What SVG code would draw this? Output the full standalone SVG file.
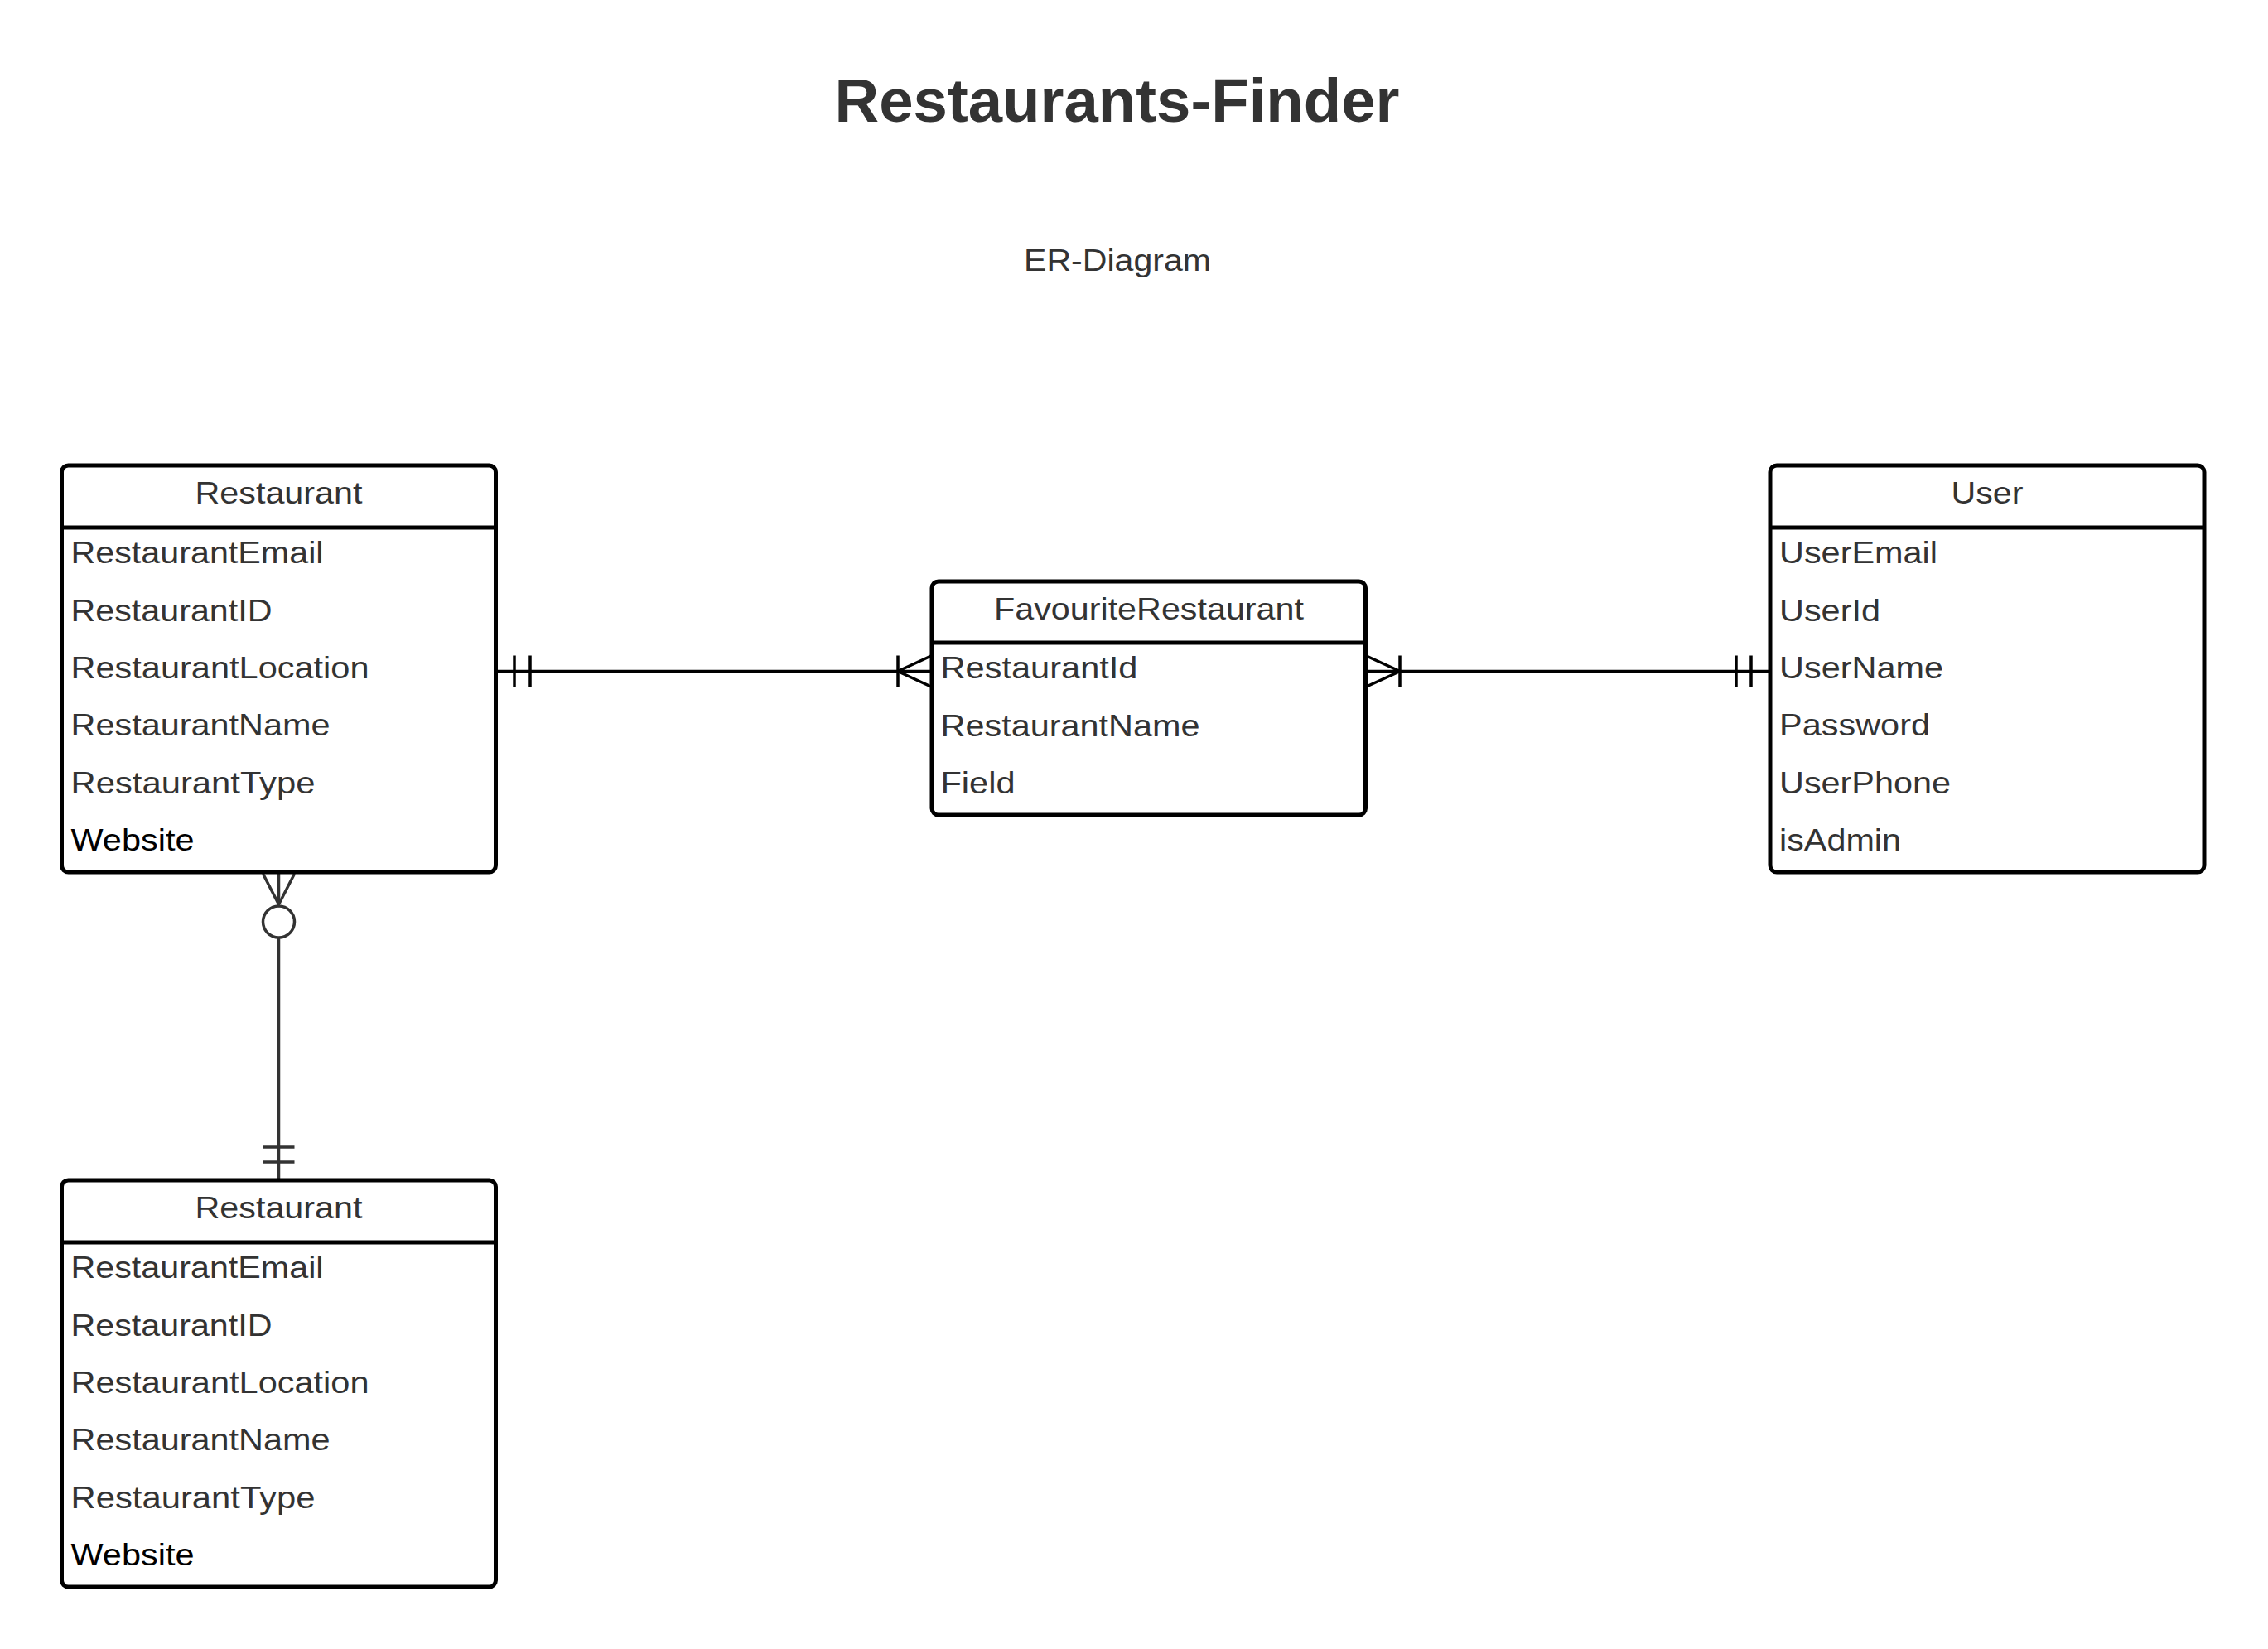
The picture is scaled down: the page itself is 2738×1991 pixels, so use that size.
<svg xmlns="http://www.w3.org/2000/svg" width="2738" height="1991" viewBox="0 0 2738 1991">
<style>
.bg{fill:#ffffff}
.box{fill:#ffffff;stroke:#000000;stroke-width:5}
.div{stroke:#000000;stroke-width:5}
.t{font-family:"Liberation Sans",Arial,sans-serif;font-size:37px;fill:#333333}
.h{text-anchor:middle}
.blk{fill:#000000}
.title{font-family:"Liberation Sans",Arial,sans-serif;font-size:74px;font-weight:bold;fill:#333333;text-anchor:middle}
.c{fill:none;stroke:#000000;stroke-width:3.5}
.cg{fill:none;stroke:#333333;stroke-width:3.5}
</style>
<rect class="bg" x="0" y="0" width="2738" height="1991"/>
<g id="title">
<text class="title" x="1348.5" y="147" textLength="682" lengthAdjust="spacingAndGlyphs">Restaurants-Finder</text>
<text class="t h" x="1349" y="327" textLength="226" lengthAdjust="spacingAndGlyphs">ER-Diagram</text>
</g>
<g id="connectors">
<line class="c" x1="598.5" y1="810.5" x2="1125" y2="810.5"/>
<line class="c" x1="621" y1="791.5" x2="621" y2="829.5"/>
<line class="c" x1="640" y1="791.5" x2="640" y2="829.5"/>
<polyline class="c" points="1125,791.5 1084,810.5 1125,829.5"/>
<line class="c" x1="1084" y1="791.5" x2="1084" y2="829.5"/>
<line class="c" x1="1648.5" y1="810.5" x2="2137" y2="810.5"/>
<polyline class="c" points="1648.5,791.5 1690,810.5 1648.5,829.5"/>
<line class="c" x1="1690" y1="791.5" x2="1690" y2="829.5"/>
<line class="c" x1="2096" y1="791.5" x2="2096" y2="829.5"/>
<line class="c" x1="2114" y1="791.5" x2="2114" y2="829.5"/>
<line class="cg" x1="336.5" y1="1053" x2="336.5" y2="1092"/>
<polyline class="cg" points="317.5,1055 336.5,1092 355.5,1055"/>
<circle class="cg" cx="336.5" cy="1113" r="19"/>
<line class="cg" x1="336.5" y1="1132" x2="336.5" y2="1425"/>
<line class="cg" x1="317.5" y1="1385" x2="355.5" y2="1385"/>
<line class="cg" x1="317.5" y1="1403" x2="355.5" y2="1403"/>
</g>
<g id="restaurant1">
<rect class="box" x="74.5" y="562" width="524" height="491" rx="8"/>
<line class="div" x1="74.5" y1="637" x2="598.5" y2="637"/>
<text class="t h" x="336.5" y="607.5" textLength="202" lengthAdjust="spacingAndGlyphs">Restaurant</text>
<text class="t" x="85.5" y="680" textLength="305" lengthAdjust="spacingAndGlyphs">RestaurantEmail</text>
<text class="t" x="85.5" y="749.5" textLength="243" lengthAdjust="spacingAndGlyphs">RestaurantID</text>
<text class="t" x="85.5" y="818.5" textLength="360" lengthAdjust="spacingAndGlyphs">RestaurantLocation</text>
<text class="t" x="85.5" y="888" textLength="313" lengthAdjust="spacingAndGlyphs">RestaurantName</text>
<text class="t" x="85.5" y="957.5" textLength="295" lengthAdjust="spacingAndGlyphs">RestaurantType</text>
<text class="t blk" x="85.5" y="1027" textLength="149" lengthAdjust="spacingAndGlyphs">Website</text>
</g>
<g id="favouriteRestaurant">
<rect class="box" x="1125" y="702" width="523.5" height="282" rx="8"/>
<line class="div" x1="1125" y1="776" x2="1648.5" y2="776"/>
<text class="t h" x="1387" y="747.5" textLength="374" lengthAdjust="spacingAndGlyphs">FavouriteRestaurant</text>
<text class="t" x="1135.5" y="819" textLength="238" lengthAdjust="spacingAndGlyphs">RestaurantId</text>
<text class="t" x="1135.5" y="888.5" textLength="313" lengthAdjust="spacingAndGlyphs">RestaurantName</text>
<text class="t" x="1135.5" y="957.5" textLength="90" lengthAdjust="spacingAndGlyphs">Field</text>
</g>
<g id="user">
<rect class="box" x="2137" y="562" width="524" height="491" rx="8"/>
<line class="div" x1="2137" y1="637" x2="2661" y2="637"/>
<text class="t h" x="2399" y="607.5" textLength="87" lengthAdjust="spacingAndGlyphs">User</text>
<text class="t" x="2148" y="680" textLength="191" lengthAdjust="spacingAndGlyphs">UserEmail</text>
<text class="t" x="2148" y="749.5" textLength="122" lengthAdjust="spacingAndGlyphs">UserId</text>
<text class="t" x="2148" y="818.5" textLength="198" lengthAdjust="spacingAndGlyphs">UserName</text>
<text class="t" x="2148" y="888" textLength="182" lengthAdjust="spacingAndGlyphs">Password</text>
<text class="t" x="2148" y="957.5" textLength="207" lengthAdjust="spacingAndGlyphs">UserPhone</text>
<text class="t" x="2148" y="1027" textLength="147" lengthAdjust="spacingAndGlyphs">isAdmin</text>
</g>
<g id="restaurant2">
<rect class="box" x="74.5" y="1425" width="524" height="491" rx="8"/>
<line class="div" x1="74.5" y1="1500" x2="598.5" y2="1500"/>
<text class="t h" x="336.5" y="1470.5" textLength="202" lengthAdjust="spacingAndGlyphs">Restaurant</text>
<text class="t" x="85.5" y="1543" textLength="305" lengthAdjust="spacingAndGlyphs">RestaurantEmail</text>
<text class="t" x="85.5" y="1612.5" textLength="243" lengthAdjust="spacingAndGlyphs">RestaurantID</text>
<text class="t" x="85.5" y="1681.5" textLength="360" lengthAdjust="spacingAndGlyphs">RestaurantLocation</text>
<text class="t" x="85.5" y="1751" textLength="313" lengthAdjust="spacingAndGlyphs">RestaurantName</text>
<text class="t" x="85.5" y="1820.5" textLength="295" lengthAdjust="spacingAndGlyphs">RestaurantType</text>
<text class="t blk" x="85.5" y="1890" textLength="149" lengthAdjust="spacingAndGlyphs">Website</text>
</g>
</svg>
